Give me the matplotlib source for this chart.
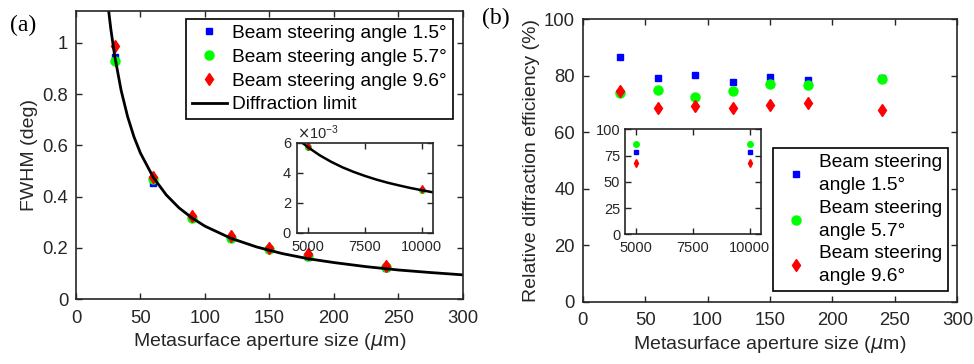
import matplotlib.pyplot as plt

plt.rcParams['font.family'] = ['Liberation Sans', 'DejaVu Sans']
plt.rcParams['mathtext.fontset'] = 'dejavusans'

# aperture sizes (um)
aperture = [30, 60, 90, 120, 150, 180, 240]

# FWHM (deg), panel (a)
fwhm_15 = [0.945, 0.455, 0.32, 0.24, 0.195, 0.165, 0.12]
fwhm_57 = [0.93, 0.47, 0.315, 0.24, 0.195, 0.17, 0.125]
fwhm_96 = [0.99, 0.475, 0.325, 0.245, 0.2, 0.175, 0.13]

# diffraction limit curve
limit_x = [25, 27, 30, 35, 40, 45, 50, 60, 70, 80, 90, 100, 120, 140, 160,
           180, 200, 225, 250, 275, 300]
limit_y = [1.14, 1.055, 0.95, 0.815, 0.713, 0.633, 0.57, 0.475, 0.407, 0.356,
           0.317, 0.285, 0.238, 0.204, 0.178, 0.158, 0.143, 0.127, 0.114,
           0.104, 0.095]

# inset (a)
inset_x = [5000, 10000]
inset_fwhm_15 = [0.0057, 0.00285]
inset_fwhm_57 = [0.0057, 0.00285]
inset_fwhm_96 = [0.0058, 0.0029]
inset_limit_x = [4500, 4750, 5000, 5500, 6000, 6500, 7000, 7500, 8000, 8500,
                 9000, 9500, 10000, 10500]
inset_limit_y = [0.00633, 0.006, 0.0057, 0.00518, 0.00475, 0.00438, 0.00407,
                 0.0038, 0.00356, 0.00335, 0.00317, 0.003, 0.00285, 0.00271]

# relative diffraction efficiency (%), panel (b)
eff_15 = [86.5, 79.3, 80.3, 77.8, 79.5, 78.5, 79.3]
eff_57 = [73.8, 75.0, 72.6, 74.7, 77.1, 76.8, 78.8]
eff_96 = [74.7, 68.7, 69.3, 68.7, 69.7, 70.5, 67.9]

inset_eff_15 = [78.4, 78.5]
inset_eff_57 = [86.0, 86.0]
inset_eff_96 = [67.6, 68.0]

labels = ['Beam steering angle 1.5°', 'Beam steering angle 5.7°',
          'Beam steering angle 9.6°']
labels_b = ['Beam steering\nangle 1.5°', 'Beam steering\nangle 5.7°',
            'Beam steering\nangle 9.6°']

txt = '#262626'
fs = 14
fs_tick = 13.3
fs_leg = 13.8
fs_in = 10.5


def style(ax, size, xpad=3.5, ypad=3.5):
    ax.tick_params(direction='in', top=True, right=True, labelsize=size,
                   colors=txt, length=4, width=1)
    ax.tick_params(axis='x', pad=xpad)
    ax.tick_params(axis='y', pad=ypad)
    for s in ax.spines.values():
        s.set_color(txt)
        s.set_linewidth(1.2)


fig = plt.figure(figsize=(9.74, 3.64), dpi=100)

# ---- panel (a)
ax1 = fig.add_axes([0.078, 0.178, 0.3973, 0.792])
ax1.plot(aperture, fwhm_15, 's', color='b', ms=5, label=labels[0])
ax1.plot(aperture, fwhm_57, 'o', color='#00ff00', ms=6.5, label=labels[1])
ax1.plot(aperture, fwhm_96, 'd', color='r', ms=6.5, label=labels[2])
ax1.plot(limit_x, limit_y, '-', color='k', lw=2, label='Diffraction limit')
ax1.set_xlim(0, 300)
ax1.set_ylim(0, 1.125)
ax1.set_yticks([0, 0.2, 0.4, 0.6, 0.8, 1])
ax1.set_yticklabels(['0', '0.2', '0.4', '0.6', '0.8', '1'])
ax1.set_xlabel(r'Metasurface aperture size ($\mu$m)', fontsize=fs, color=txt,
               labelpad=3.5)
ax1.set_ylabel('FWHM (deg)', fontsize=fs, color=txt, labelpad=3)
style(ax1, fs_tick, xpad=7.5, ypad=5.5)
leg = ax1.legend(loc='upper right', bbox_to_anchor=(0.974, 0.972),
                 borderaxespad=0, fontsize=fs_leg, fancybox=False,
                 framealpha=1, edgecolor='k', handlelength=1.8,
                 handletextpad=0.3, labelspacing=0.33, borderpad=0.3)
leg.get_frame().set_linewidth(1.2)

ins1 = fig.add_axes([0.3049, 0.36, 0.1396, 0.2473])
ins1.plot(inset_x, inset_fwhm_15, 's', color='b', ms=3)
ins1.plot(inset_x, inset_fwhm_57, 'o', color='#00ff00', ms=4)
ins1.plot(inset_x, inset_fwhm_96, 'd', color='r', ms=4)
ins1.plot(inset_limit_x, inset_limit_y, '-', color='k', lw=1.8)
ins1.set_xlim(4500, 10500)
ins1.set_ylim(0, 0.006)
ins1.set_xticks([5000, 7500, 10000])
ins1.set_yticks([0, 0.002, 0.004, 0.006])
ins1.ticklabel_format(axis='y', style='sci', scilimits=(0, 0), useMathText=True)
style(ins1, fs_in, xpad=5, ypad=3.5)
ins1.yaxis.get_offset_text().set_fontsize(fs_in)
ins1.yaxis.get_offset_text().set_color(txt)

fig.text(0.0103, 0.929, '(a)', family='Liberation Serif', fontsize=17,
         va='center')

# ---- panel (b)
ax2 = fig.add_axes([0.5983, 0.171, 0.3846, 0.776])
ax2.plot(aperture, eff_15, 's', color='b', ms=5, label=labels_b[0])
ax2.plot(aperture, eff_57, 'o', color='#00ff00', ms=6.5, label=labels_b[1])
ax2.plot(aperture, eff_96, 'd', color='r', ms=6.5, label=labels_b[2])
ax2.set_xlim(0, 300)
ax2.set_ylim(0, 100)
ax2.set_xlabel(r'Metasurface aperture size ($\mu$m)', fontsize=fs, color=txt,
               labelpad=3.5)
ax2.set_ylabel('Relative diffraction efficiency (%)', fontsize=fs, color=txt,
               labelpad=3)
style(ax2, fs_tick, xpad=7.5, ypad=5.5)
leg2 = ax2.legend(loc='lower right', bbox_to_anchor=(0.975, 0.038),
                  borderaxespad=0, fontsize=fs_leg, fancybox=False,
                  framealpha=1, edgecolor='k', handlelength=1.8,
                  handletextpad=0.3, labelspacing=0.3, borderpad=0.3)
leg2.get_frame().set_linewidth(1.2)
for t in leg2.get_texts():
    t.set_linespacing(1.45)

ins2 = fig.add_axes([0.6417, 0.356, 0.1396, 0.2885])
ins2.plot(inset_x, inset_eff_15, 's', color='b', ms=3)
ins2.plot(inset_x, inset_eff_57, 'o', color='#00ff00', ms=4)
ins2.plot(inset_x, inset_eff_96, 'd', color='r', ms=4)
ins2.set_xlim(4500, 10500)
ins2.set_ylim(0, 100)
ins2.set_xticks([5000, 7500, 10000])
ins2.set_yticks([0, 25, 50, 75, 100])
style(ins2, fs_in, xpad=5, ypad=3.5)

fig.text(0.495, 0.949, '(b)', family='Liberation Serif', fontsize=17,
         va='center')

fig.savefig('out.png', dpi=100)
